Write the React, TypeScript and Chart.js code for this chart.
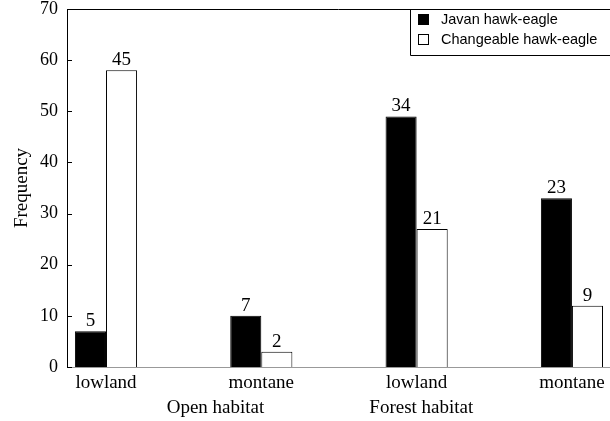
import React, { useEffect, useRef } from "react";
import { Chart, registerables } from "chart.js";

Chart.register(...registerables);

const categories = ["lowland", "montane", "lowland", "montane"];
const groupLabels = ["Open habitat", "Forest habitat"];
const groupPositions = [0.705, 2.03];
const seriesNames = ["Javan hawk-eagle", "Changeable hawk-eagle"];
const javanValues = [7, 10, 49, 33];
const changeableValues = [58, 3, 27, 12];
const javanCounts = ["5", "7", "34", "23"];
const changeableCounts = ["45", "2", "21", "9"];
const yMin = 0;
const yMax = 70;
const yStep = 10;

const SERIF = "'Liberation Serif', 'Times New Roman', serif";
const SANS = "'Liberation Sans', Arial, sans-serif";

const decor = {
  id: "decor",
  afterDatasetsDraw(chart: any) {
    const { ctx, chartArea, scales } = chart;
    const xs = scales.x;
    const ys = scales.y;
    ctx.save();
    ctx.strokeStyle = "#000";
    ctx.lineWidth = 1;
    // top frame line
    ctx.beginPath();
    ctx.moveTo(chartArea.left, Math.round(chartArea.top) + 0.5);
    ctx.lineTo(chartArea.right, Math.round(chartArea.top) + 0.5);
    ctx.stroke();
    // inward y ticks
    ys.ticks.forEach((t: any) => {
      const py = Math.round(ys.getPixelForValue(t.value)) + 0.5;
      ctx.beginPath();
      ctx.moveTo(chartArea.left, py);
      ctx.lineTo(chartArea.left + 5, py);
      ctx.stroke();
    });
    // value labels
    ctx.fillStyle = "#000";
    ctx.font = `19px ${SERIF}`;
    ctx.textAlign = "center";
    ctx.textBaseline = "alphabetic";
    const counts = [javanCounts, changeableCounts];
    chart.data.datasets.forEach((_: any, di: number) => {
      const meta = chart.getDatasetMeta(di);
      meta.data.forEach((el: any, i: number) => {
        ctx.fillText(counts[di][i], el.x, el.y - 5);
      });
    });
    // group labels
    ctx.font = `19px ${SERIF}`;
    ctx.textBaseline = "middle";
    groupLabels.forEach((g, i) => {
      ctx.fillText(g, xs.getPixelForValue(groupPositions[i]), 408);
    });
    // legend
    const lx = 410.5;
    const ly = Math.round(chartArea.top) + 0.5;
    ctx.beginPath();
    ctx.moveTo(lx, ly);
    ctx.lineTo(lx, 55.5);
    ctx.lineTo(chartArea.right, 55.5);
    ctx.stroke();
    ctx.font = `14.5px ${SANS}`;
    ctx.textAlign = "left";
    chart.data.datasets.forEach((ds: any, di: number) => {
      const cy = 20 + di * 20;
      ctx.fillStyle = ds.backgroundColor;
      ctx.fillRect(418.5, cy - 5.5, 10, 10);
      ctx.strokeStyle = "#000";
      ctx.strokeRect(418.5, cy - 5.5, 10, 10);
      ctx.fillStyle = "#000";
      ctx.fillText(ds.label, 441, cy);
    });
    ctx.restore();
  },
};

export default function App() {
  const ref = useRef<HTMLCanvasElement | null>(null);
  useEffect(() => {
    document.body.style.margin = "0";
    if (!ref.current) return;
    const chart = new Chart(ref.current, {
      type: "bar",
      data: {
        datasets: [
          {
            label: seriesNames[0],
            data: javanValues.map((y, i) => ({ x: i, y })),
            backgroundColor: "#000",
            borderColor: "#000",
            borderWidth: 1,
          },
          {
            label: seriesNames[1],
            data: changeableValues.map((y, i) => ({ x: i, y })),
            backgroundColor: "#fff",
            borderColor: "#000",
            borderWidth: 1,
          },
        ],
      },
      options: {
        responsive: false,
        animation: false,
        layout: { padding: 0 },
        datasets: { bar: { categoryPercentage: 0.4, barPercentage: 1 } },
        plugins: { legend: { display: false }, tooltip: { enabled: false } },
        scales: {
          x: {
            type: "linear",
            offset: false,
            min: -0.251,
            max: 3.245,
            grid: { display: false, drawTicks: false, offset: false },
            border: { display: true, color: "#999", width: 1 },
            afterBuildTicks: (scale: any) => {
              scale.ticks = categories.map((_, i) => ({ value: i }));
            },
            afterFit: (scale: any) => {
              scale.height = 54;
              scale.paddingLeft = 0;
              scale.paddingRight = 0;
            },
            ticks: {
              autoSkip: false,
              maxRotation: 0,
              padding: 5,
              color: "#000",
              font: { family: SERIF, size: 19 },
              callback: (v: any) => categories[Math.round(Number(v))] ?? "",
            },
          },
          y: {
            min: yMin,
            max: yMax,
            grid: { display: false, drawTicks: false },
            border: { display: true, color: "#000", width: 1 },
            afterFit: (scale: any) => {
              scale.width = 67;
              scale.paddingTop = 9;
              scale.paddingBottom = 0;
            },
            ticks: {
              stepSize: yStep,
              padding: 9,
              color: "#000",
              font: { family: SERIF, size: 18 },
            },
            title: {
              display: true,
              text: "Frequency",
              color: "#000",
              font: { family: SERIF, size: 19 },
              padding: { top: 11, bottom: 0 },
            },
          },
        },
      },
      plugins: [decor],
    });
    return () => chart.destroy();
  }, []);
  return <canvas ref={ref} width={610} height={421} />;
}
